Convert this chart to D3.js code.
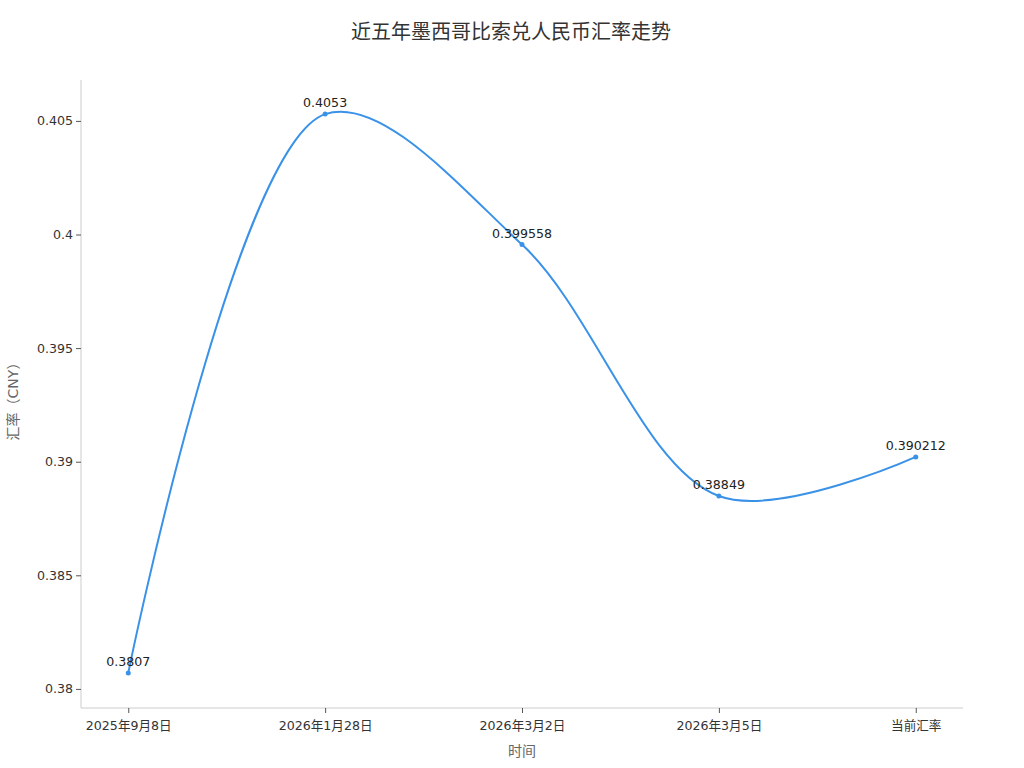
<!DOCTYPE html>
<html>
<head>
<meta charset="utf-8">
<script src="https://cdn.jsdelivr.net/npm/d3@7"></script>
<style>
  body { margin: 0; background: #fff; font-family: "DejaVu Sans", "Noto Sans CJK SC", sans-serif; }
</style>
</head>
<body>
<div id="svg-container"></div>
<script>
const dates = ['2025年9月8日', '2026年1月28日', '2026年3月2日', '2026年3月5日', '当前汇率'];
const rates = [0.3807, 0.4053, 0.399558, 0.38849, 0.390212];
const yTicks = [0.38, 0.385, 0.39, 0.395, 0.4, 0.405];
const yDomain = [0.37916, 0.4068];

const w = 1024;
const h = 768;
const plotLeft = 81, plotRight = 963, plotTop = 80, plotBottom = 708;
const lineColor = '#3a92e8';
const fontStack = '"DejaVu Sans", "Noto Sans CJK SC", sans-serif';

const svg = d3.select('#svg-container')
  .append('svg')
  .attr('width', w)
  .attr('height', h)
  .style('font-family', fontStack);

const xScale = d3.scalePoint()
  .domain(dates)
  .range([plotLeft, plotRight])
  .padding(0.24);
const yScale = d3.scaleLinear()
  .domain(yDomain)
  .range([plotBottom, plotTop]);

// title
svg.append('text')
  .attr('x', 511)
  .attr('y', 39)
  .attr('text-anchor', 'middle')
  .attr('font-size', 20)
  .attr('fill', '#333')
  .text('近五年墨西哥比索兑人民币汇率走势');

const xAxis = svg.append('g')
  .attr('transform', 'translate(0,' + plotBottom + ')')
  .call(d3.axisBottom(xScale).tickSize(5).tickSizeOuter(0));
const yAxis = svg.append('g')
  .attr('transform', 'translate(' + plotLeft + ',0)')
  .call(d3.axisLeft(yScale).tickValues(yTicks).tickFormat(d3.format('~g')).tickSize(5).tickSizeOuter(0));

[xAxis, yAxis].forEach(g => {
  g.select('.domain').attr('stroke', '#ccc');
  g.selectAll('.tick line').attr('stroke', '#555');
  g.selectAll('.tick text').attr('fill', '#333').attr('font-size', 12.6)
    .attr('font-family', fontStack);
});
xAxis.select('.domain').attr('d', 'M' + plotLeft + ',0H' + plotRight);
yAxis.select('.domain').attr('d', 'M0,' + plotTop + 'V' + plotBottom);
xAxis.selectAll('.tick text').attr('dy', '1.1em');

// axis titles
svg.append('text')
  .attr('x', 522)
  .attr('y', 756)
  .attr('text-anchor', 'middle')
  .attr('font-size', 14)
  .attr('fill', '#666')
  .text('时间');
svg.append('text')
  .attr('transform', 'translate(18,398) rotate(-90)')
  .attr('text-anchor', 'middle')
  .attr('font-size', 14)
  .attr('fill', '#666')
  .text('汇率（CNY）');

const line = d3.line()
  .x((d, i) => xScale(dates[i]))
  .y(d => yScale(d))
  .curve(d3.curveCatmullRom.alpha(0.5));

svg.append('path')
  .datum(rates)
  .attr('d', line)
  .attr('fill', 'none')
  .attr('stroke', lineColor)
  .attr('stroke-width', 2);

svg.selectAll('circle.pt')
  .data(rates)
  .enter()
  .append('circle')
  .attr('class', 'pt')
  .attr('cx', (d, i) => xScale(dates[i]))
  .attr('cy', d => yScale(d))
  .attr('r', 2.5)
  .attr('fill', lineColor);

svg.selectAll('text.lbl')
  .data(rates)
  .enter()
  .append('text')
  .attr('class', 'lbl')
  .attr('x', (d, i) => xScale(dates[i]))
  .attr('y', d => yScale(d) - 7)
  .attr('text-anchor', 'middle')
  .attr('font-size', 12.6)
  .attr('fill', '#222')
  .text(d => d);
</script>
</body>
</html>
